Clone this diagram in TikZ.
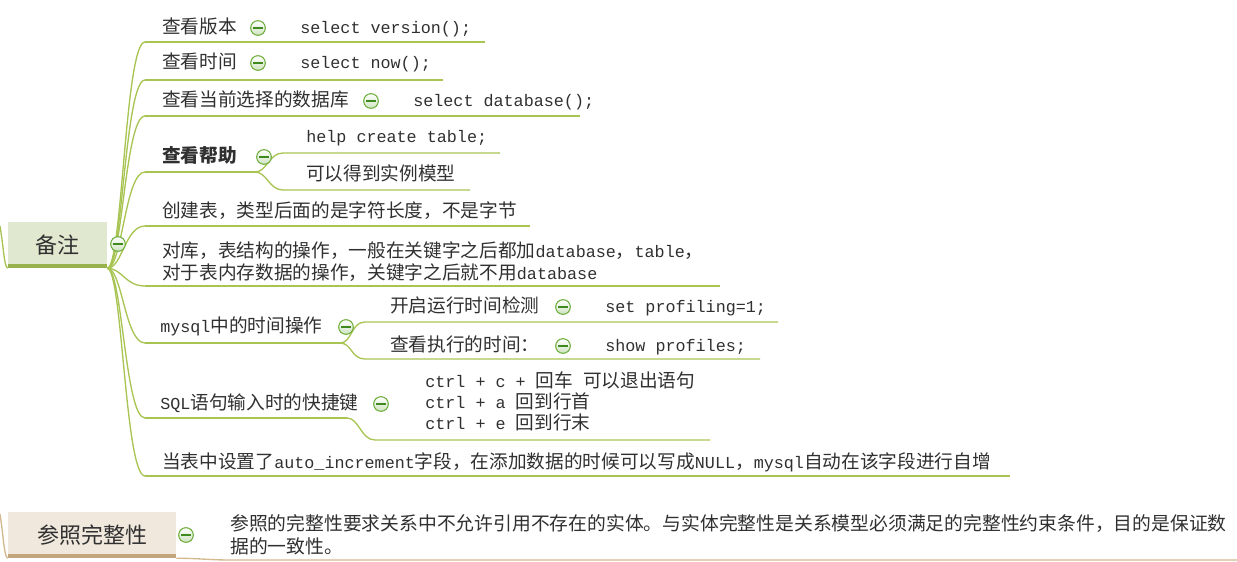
\documentclass[tikz,border=0pt]{standalone}
\usepackage{fontspec}
\setmainfont{Noto Sans CJK SC}
\newfontfamily\monof{Liberation Mono}[Scale=0.897]
\newcommand\mt[1]{{\monof #1}}
\definecolor{lg}{HTML}{A8C452}
\definecolor{rootAfill}{HTML}{E0E8CF}
\definecolor{rootAbar}{HTML}{97B24A}
\definecolor{rootBfill}{HTML}{F0E8DD}
\definecolor{rootBbar}{HTML}{C4A67E}
\definecolor{tanline}{HTML}{D4B88E}
\definecolor{ink}{HTML}{303030}
\definecolor{btnline}{HTML}{6DAE3C}
\definecolor{btnfill}{HTML}{CFE3C0}
\definecolor{btnminus}{HTML}{3F8A1E}
\tikzset{
  txt/.style={anchor=west, inner sep=0pt, text=ink, font=\fontsize{14}{16.5}\selectfont, text height=10.5pt, text depth=2.5pt},
  txtm/.style={anchor=base west, inner sep=0pt, text=ink, align=left, font=\fontsize{14}{16.5}\selectfont},
  conn/.style={draw=lg, line width=1pt},
  tconn/.style={draw=tanline, line width=1pt},
  colbtn/.style={circle, draw=btnline, line width=0.8pt, minimum size=11pt, inner sep=0pt,
    top color=white, bottom color=btnfill,
    path picture={\draw[btnminus, line width=0.9pt] ([xshift=-3.4pt]path picture bounding box.center) -- ([xshift=3.4pt]path picture bounding box.center);}},
  rootA/.style={fill=rootAfill, minimum width=74.25pt, minimum height=34.5pt, inner sep=0pt, text=ink, font=\fontsize{16.5}{20}\selectfont},
  rootB/.style={fill=rootBfill, minimum width=126pt, minimum height=34.5pt, inner sep=0pt, text=ink, font=\fontsize{16.5}{20}\selectfont},
}
\begin{document}
\begin{tikzpicture}[x=0.75pt,y=-0.75pt]
\useasboundingbox (0,0) rectangle (1237,561);

% ---------- root 1 ----------
\node[rootA] (r1) at (57.5,245) {备注};
\draw[rootAbar, line width=3pt] ([yshift=1.5pt]r1.south west) -- ([yshift=1.5pt]r1.south east);
\coordinate (hub) at (r1.south east);
\coordinate (lin1) at (0,226);
\draw[conn] (lin1) .. controls (4,250) and (4,266) .. (r1.south west);

% branch coordinates
\coordinate (b1) at (145,42);   \coordinate (e1) at (485,42);
\coordinate (b2) at (145,80);   \coordinate (e2) at (443,80);
\coordinate (b3) at (145,116);  \coordinate (e3) at (580,116);
\coordinate (b4) at (145,172);  \coordinate (e4) at (255,172);
\coordinate (b5) at (145,226);  \coordinate (e5) at (530,226);
\coordinate (b6) at (145,286);  \coordinate (e6) at (720,286);
\coordinate (b7) at (145,343);  \coordinate (e7) at (340,343);
\coordinate (b8) at (145,418);  \coordinate (e8) at (347,418);
\coordinate (b9) at (145,476);  \coordinate (e9) at (1010,476);

\foreach \i in {1,...,9}{
  \draw[conn] (hub) .. controls +(15,0) and +(-20,0) .. (b\i);
  \draw[conn] (b\i) -- (e\i);
}

% help children
\coordinate (h1) at (283,153); \coordinate (h1e) at (500,153);
\coordinate (h2) at (283,190); \coordinate (h2e) at (470,190);
\draw[conn] (e4) .. controls +(12,0) and +(-14,0) .. (h1) -- (h1e);
\draw[conn] (e4) .. controls +(12,0) and +(-14,0) .. (h2) -- (h2e);

% mysql children
\coordinate (m1) at (365,322); \coordinate (m1e) at (778,322);
\coordinate (m2) at (365,359); \coordinate (m2e) at (760,359);
\draw[conn] (e7) .. controls +(12,0) and +(-14,0) .. (m1) -- (m1e);
\draw[conn] (e7) .. controls +(12,0) and +(-14,0) .. (m2) -- (m2e);

% SQL child
\coordinate (s1) at (375,440); \coordinate (s1e) at (710,440);
\draw[conn] (e8) .. controls +(12,0) and +(-14,0) .. (s1) -- (s1e);

% texts
\node[txt] (t1) at (162,28) {查看版本};
\node[colbtn] (i1) at (258,28) {};
\node[txt] (c1) at (300,28) {\mt{select version();}};

\node[txt] (t2) at (162,63) {查看时间};
\node[colbtn] (i2) at (258,63) {};
\node[txt] (c2) at (300,63) {\mt{select now();}};

\node[txt] (t3) at (162,101) {查看当前选择的数据库};
\node[colbtn] (i3) at (371,101) {};
\node[txt] (c3) at (413,101) {\mt{select database();}};

\node[txt, font=\fontsize{14}{16.5}\selectfont\bfseries] (t4) at (162,157) {查看帮助};
\node[colbtn] (i4) at (264,157) {};
\node[txt] (c4a) at (306,137) {\mt{help create table;}};
\node[txt] (c4b) at (306,175) {可以得到实例模型};

\node[txt] (t5) at (162,212) {创建表，类型后面的是字符长度，不是字节};

\node[txtm] (t6) at (162,279)
  {对库，表结构的操作，一般在关键字之后都加\mt{database}，\mt{table}，\\
   对于表内存数据的操作，关键字之后就不用\mt{database}};

\node[txt] (t7) at (160,327) {\mt{mysql}中的时间操作};
\node[colbtn] (i7) at (346,327) {};
\node[txt] (c7a) at (390,307) {开启运行时间检测};
\node[colbtn] (i7a) at (563,307) {};
\node[txt] (d7a) at (605,307) {\mt{set profiling=1;}};
\node[txt] (c7b) at (390,346) {查看执行的时间：};
\node[colbtn] (i7b) at (563,346) {};
\node[txt] (d7b) at (605,346) {\mt{show profiles;}};

\node[txt] (t8) at (160,404) {\mt{SQL}语句输入时的快捷键};
\node[colbtn] (i8) at (381,404) {};
\node[txt] (c8a) at (425,382) {\mt{ctrl + c + }回车\mt{ }可以退出语句};
\node[txt] (c8b) at (425,403) {\mt{ctrl + a }回到行首};
\node[txt] (c8c) at (425,424) {\mt{ctrl + e }回到行末};

\node[txt] (t9) at (162,463) {当表中设置了\mt{auto\_increment}字段，在添加数据的时候可以写成\mt{NULL}，\mt{mysql}自动在该字段进行自增};

\node[colbtn] (i1r) at (118,244) {};

% ---------- root 2 ----------
\node[rootB] (r2) at (92,535) {参照完整性};
\draw[rootBbar, line width=3pt] ([yshift=1.5pt]r2.south west) -- ([yshift=1.5pt]r2.south east);
\coordinate (lin2) at (0,514);
\draw[tconn] (lin2) .. controls (4,540) and (4,556) .. (r2.south west);
\coordinate (p1) at (232,560);
\coordinate (p1e) at (1237,560);
\draw[tconn] (r2.south east) .. controls +(25,0) and +(-25,0) .. (p1) -- (p1e);
\node[colbtn] (i2r) at (186,535) {};
\node[txtm, font=\fontsize{14.1}{17.25}\selectfont] (t10) at (230,553)
  {参照的完整性要求关系中不允许引用不存在的实体。与实体完整性是关系模型必须满足的完整性约束条件，目的是保证数\\
   据的一致性。};
\end{tikzpicture}
\end{document}
